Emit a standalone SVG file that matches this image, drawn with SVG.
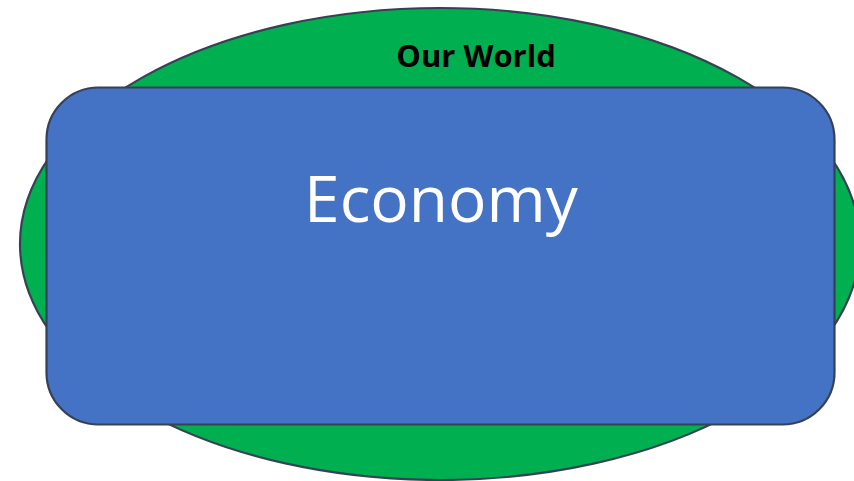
<svg xmlns="http://www.w3.org/2000/svg" width="854" height="481" viewBox="0 0 854 481">
<style>
.shape{stroke:#374155;stroke-width:2.2}
.t{font-family:"Open Sans","Liberation Sans",sans-serif;text-anchor:middle}
</style>
<rect width="854" height="481" fill="#ffffff"/>
<g id="world">
<ellipse class="shape" cx="440" cy="244" rx="420" ry="236" fill="#00B050"/>
<text class="t" x="476" y="66.5" font-size="31" font-weight="bold" fill="#000000">Our World</text>
</g>
<g id="economy">
<rect class="shape" x="46.5" y="87.5" width="788" height="337" rx="52" ry="52" fill="#4472C4"/>
<text class="t" x="441" y="222" font-size="64" fill="#ffffff">Economy</text>
</g>
<g id="connectors"></g>
</svg>
